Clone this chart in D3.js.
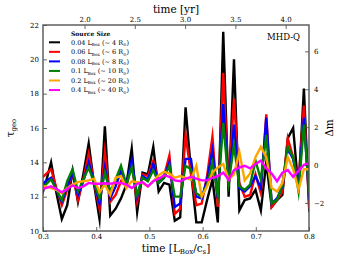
<!DOCTYPE html>
<html><head><meta charset="utf-8">
<script src="https://cdn.jsdelivr.net/npm/d3@7"></script>
<style>body{margin:0;background:#fff}svg{display:block}text{font-family:"DejaVu Serif",serif;fill:#000}</style>
</head><body><svg id="c" width="344" height="258"></svg>
<script>
const times = [0.2949,0.3050,0.3152,0.3253,0.3354,0.3455,0.3556,0.3657,0.3758,0.3859,
0.3961,0.4062,0.4163,0.4264,0.4365,0.4466,0.4567,0.4668,0.4770,0.4871,
0.4972,0.5073,0.5174,0.5275,0.5376,0.5477,0.5579,0.5680,0.5781,0.5882,
0.5983,0.6084,0.6185,0.6286,0.6388,0.6489,0.6590,0.6691,0.6792,0.6893,
0.6994,0.7095,0.7197,0.7298,0.7399,0.7500,0.7601,0.7702,0.7803,0.7904,0.8006];
const s004 = [11.8,12.8,14.0,12.2,10.7,11.5,13.5,11.7,13.3,15.1,12.7,10.7,16.1,10.9,11.3,11.9,12.7,14.8,11.1,13.4,13.3,14.9,12.3,12.8,12.7,10.6,10.8,17.2,13.5,10.5,10.5,11.8,13.0,10.5,21.6,12.0,20.0,11.2,11.8,11.9,12.4,11.2,14.0,11.4,11.8,12.1,15.4,16.0,12.4,18.3,11.1];
const s006 = [13.0,13.3,13.6,12.5,11.5,12.4,13.4,11.8,13.0,14.5,12.8,11.3,14.6,11.7,12.1,12.9,12.6,13.9,11.7,13.3,13.2,14.1,12.9,13.2,14.4,11.0,11.3,15.6,13.3,11.5,11.6,13.2,15.5,11.4,19.2,12.6,17.7,12.8,12.0,12.1,13.3,12.2,16.8,11.4,11.8,12.3,15.4,14.3,12.8,17.3,11.3];
const s008 = [12.6,12.9,13.1,12.4,11.7,12.6,13.4,12.1,12.9,14.0,12.8,11.6,13.7,11.9,12.6,13.5,12.7,14.1,12.0,13.2,13.0,13.9,12.8,13.1,14.0,11.4,11.6,14.2,14.2,12.0,11.9,13.0,14.7,11.9,17.4,12.7,16.2,12.5,12.3,12.6,13.2,12.5,16.6,11.6,11.9,12.6,14.8,14.2,12.7,16.6,11.8];
const s01 = [12.4,12.7,13.0,12.4,11.8,12.9,13.6,12.3,13.0,13.7,12.8,11.9,13.4,12.3,13.0,13.8,12.7,13.7,12.1,13.1,12.9,13.55,12.8,13.1,13.8,12.0,12.0,13.8,13.6,12.2,12.0,12.7,14.0,12.1,16.3,12.8,15.0,12.6,12.4,12.7,14.1,13.0,15.6,11.6,11.8,12.7,14.9,14.3,12.3,16.2,12.2];
const s02 = [12.6,12.6,12.5,12.4,12.2,12.5,12.7,12.85,12.9,12.95,13.05,12.25,12.7,12.1,13.1,13.2,12.5,12.9,12.85,12.8,12.6,12.9,13.25,13.45,13.35,13.1,13.2,13.1,13.0,13.8,12.0,12.6,13.4,13.7,13.9,13.0,13.3,14.6,12.95,13.35,14.3,14.9,14.3,12.5,12.3,12.8,14.3,13.6,12.4,13.6,13.6];
const s04 = [12.4,12.5,12.6,12.45,12.25,12.45,12.65,12.5,12.6,12.8,12.75,12.75,12.78,12.75,12.8,12.8,12.7,12.5,12.75,12.85,12.6,12.9,13.05,13.25,13.15,12.95,12.9,13.05,13.15,13.05,12.95,12.95,13.1,13.2,13.4,13.0,13.55,13.7,13.8,13.65,13.9,14.1,13.65,13.35,12.9,13.4,13.55,13.15,13.5,13.85,13.95];
const seriesNames = ["0.04","0.06","0.08","0.1","0.2","0.4"];
const seriesRadii = ["4","6","8","10","20","40"];
const seriesColors = ["#000000","#ff0000","#0000ff","#008000","#ffa500","#ff00ff"];
const seriesData = [s004,s006,s008,s01,s02,s04];
const yTicks = [10,12,14,16,18,20,22];
const xTicks = [0.3,0.4,0.5,0.6,0.7,0.8];
const yrTicks = [2.0,2.5,3.0,3.5,4.0];
const dmTicks = [-2,0,2,4,6];

const svg = d3.select("#c");
const L=43,R=309,T=25,B=231;
const x = d3.scaleLinear().domain([0.3,0.8]).range([L,R]);
const y = d3.scaleLinear().domain([10,22]).range([B,T]);
const xYr = d3.scaleLinear().domain([0.3*5.29,0.8*5.29]).range([L,R]);
const yDm = d3.scaleLinear().domain([-3.48,7.39]).range([B,T]);

svg.append("clipPath").attr("id","pc").append("rect").attr("x",L).attr("y",T).attr("width",R-L).attr("height",B-T);
const g = svg.append("g").attr("clip-path","url(#pc)");
const line = d3.line().x((d,i)=>x(times[i])).y(d=>y(d));
seriesData.forEach((s,k)=>{
  g.append("path").datum(s).attr("d",line).attr("fill","none")
   .attr("stroke",seriesColors[k]).attr("stroke-width",2.4).attr("stroke-linejoin","miter").attr("stroke-miterlimit",10);
});

function styleAxis(sel){
  sel.select(".domain").remove();
  sel.selectAll(".tick line").attr("stroke","#444").attr("stroke-width",0.8);
  sel.selectAll(".tick text").attr("font-family","DejaVu Serif").attr("font-size",7).attr("fill","#000");
}
const ax1 = svg.append("g").attr("transform",`translate(0,${B})`)
  .call(d3.axisBottom(x).tickValues(xTicks).tickFormat(d3.format(".1f")).tickSizeInner(-4).tickSizeOuter(0).tickPadding(3));
styleAxis(ax1);
const ax2 = svg.append("g").attr("transform",`translate(${L},0)`)
  .call(d3.axisLeft(y).tickValues(yTicks).tickFormat(d3.format("d")).tickSizeInner(-4).tickSizeOuter(0).tickPadding(4));
styleAxis(ax2);
const ax3 = svg.append("g").attr("transform",`translate(0,${T})`)
  .call(d3.axisTop(xYr).tickValues(yrTicks).tickFormat(d3.format(".1f")).tickSizeInner(-4).tickSizeOuter(0).tickPadding(3));
styleAxis(ax3);
const ax4 = svg.append("g").attr("transform",`translate(${R},0)`)
  .call(d3.axisRight(yDm).tickValues(dmTicks).tickFormat(d3.format("d")).tickSizeInner(-4).tickSizeOuter(0).tickPadding(5));
styleAxis(ax4);

svg.append("rect").attr("x",L).attr("y",T).attr("width",R-L).attr("height",B-T)
  .attr("fill","none").attr("stroke","#555").attr("stroke-width",1.4);

// axis labels
svg.append("text").attr("x",176).attr("y",13).attr("text-anchor","middle").attr("font-size",10.5).text("time [yr]");
const bl = svg.append("text").attr("x",176).attr("y",252).attr("text-anchor","middle").attr("font-size",10.5);
bl.append("tspan").text("time [L");
bl.append("tspan").attr("font-size",7).attr("dy",2).text("Box");
bl.append("tspan").attr("dy",-2).text("/c");
bl.append("tspan").attr("font-size",7).attr("dy",2).text("s");
bl.append("tspan").attr("dy",-2).text("]");
const tl = svg.append("text").attr("transform","translate(14,128) rotate(-90)").attr("text-anchor","middle").attr("font-size",10.5);
tl.append("tspan").text("τ");
tl.append("tspan").attr("font-size",7).attr("dy",2).text("geo");
svg.append("text").attr("transform","translate(333,128) rotate(-90)").attr("text-anchor","middle").attr("font-size",10.5).text("Δm");

svg.append("text").attr("x",300).attr("y",40).attr("text-anchor","end").attr("font-size",8.5).text("MHD-Q");

// legend
const lg = svg.append("g");
lg.append("text").attr("x",71).attr("y",35.5).attr("font-size",6).attr("font-family","DejaVu Sans").attr("font-weight","bold").text("Source Size");
seriesNames.forEach((nm,i)=>{
  const yy = 42.3 + i*9.55;
  lg.append("line").attr("x1",49).attr("x2",60).attr("y1",yy).attr("y2",yy).attr("stroke",seriesColors[i]).attr("stroke-width",2);
  const t = lg.append("text").attr("x",71).attr("y",yy+2.3).attr("font-size",6.5);
  t.append("tspan").text(nm+" L");
  t.append("tspan").attr("font-size",4.2).attr("dy",1.5).text("Box");
  t.append("tspan").attr("dy",-1.5).text(" (∼ "+seriesRadii[i]+" R");
  t.append("tspan").attr("font-size",4.2).attr("dy",1.5).text("⊙");
  t.append("tspan").attr("dy",-1.5).text(")");
});
</script></body></html>
